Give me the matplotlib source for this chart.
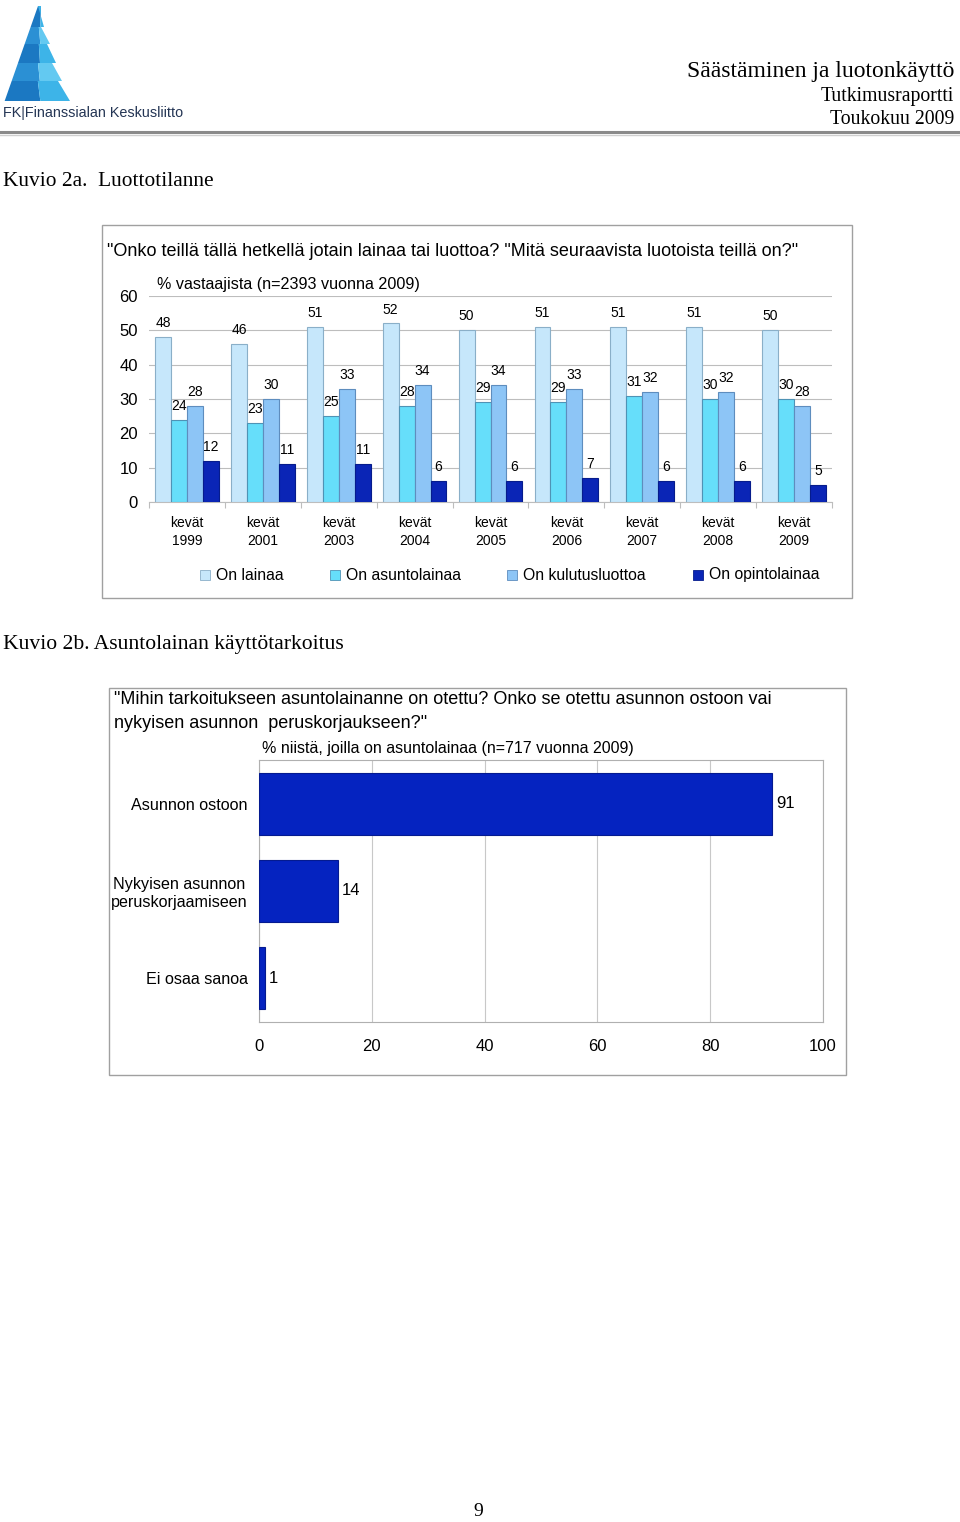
import matplotlib.pyplot as plt
from matplotlib.patches import Rectangle, Polygon
import numpy as np

# --- data ---
years = ["1999", "2001", "2003", "2004", "2005", "2006", "2007", "2008", "2009"]
series_names = ["On lainaa", "On asuntolainaa", "On kulutusluottoa", "On opintolainaa"]
on_lainaa = [48, 46, 51, 52, 50, 51, 51, 51, 50]
on_asuntolainaa = [24, 23, 25, 28, 29, 29, 31, 30, 30]
on_kulutusluottoa = [28, 30, 33, 34, 34, 33, 32, 32, 28]
on_opintolainaa = [12, 11, 11, 6, 6, 7, 6, 6, 5]

purpose_labels = ["Asunnon ostoon", "Nykyisen asunnon\nperuskorjaamiseen", "Ei osaa sanoa"]
purpose_values = [91, 14, 1]

series_colors = ["#C6E7FB", "#66DEFA", "#8DC5F6", "#0A25B6"]
edge_colors = ["#8AAFC8", "#4F93B5", "#5E8DBE", "#061C8C"]

W, H = 960, 1522
fig = plt.figure(figsize=(W / 100, H / 100), dpi=100)

sans = "Liberation Sans"
serif = "Liberation Serif"


def px_axes(x0, y0, x1, y1):
    # pixel box (top-left origin) -> figure fraction
    return fig.add_axes([x0 / W, 1 - y1 / H, (x1 - x0) / W, (y1 - y0) / H])


# background axes in pixel coordinates for page decorations
bg = fig.add_axes([0, 0, 1, 1])
bg.set_xlim(0, W)
bg.set_ylim(H, 0)
bg.axis("off")

# logo: stepped triangle
def left_edge(yy):
    return 38 - 33 * (yy - 6) / 94

tiers = [(6, 27, 38, 44), (27, 44, 41, 50), (44, 63, 47, 56), (63, 81, 52, 62), (81, 101, 58, 70)]
for i, (ya, yb, ra, rb) in enumerate(tiers):
    la, lb = left_edge(ya), left_edge(yb)
    mid_a = (la + ra) / 2 + 3
    mid_b = (lb + rb) / 2 + 3
    dark = "#1B78C2" if i % 2 == 0 else "#2B90D4"
    light = "#3DB4E8" if i % 2 == 0 else "#63C9F1"
    bg.add_patch(Polygon([(la, ya), (mid_a, ya), (mid_b, yb), (lb, yb)], closed=True,
                         facecolor=dark, edgecolor="none"))
    bg.add_patch(Polygon([(mid_a, ya), (ra, ya), (rb, yb), (mid_b, yb)], closed=True,
                         facecolor=light, edgecolor="none"))
bg.text(3, 113, "FK|Finanssialan Keskusliitto", fontsize=10.4, family=sans,
        color="#243554", va="center", ha="left")

# header
bg.text(954, 72, "Säästäminen ja luotonkäyttö", fontsize=17, family=serif, ha="right", va="center")
bg.text(954, 97, "Tutkimusraportti", fontsize=14.2, family=serif, ha="right", va="center")
bg.text(954, 119, "Toukokuu 2009", fontsize=14.2, family=serif, ha="right", va="center")
bg.plot([0, 960], [132, 132], color="#8A8A8A", lw=2.2)
bg.plot([0, 960], [134.5, 134.5], color="#CFCFCF", lw=1)

bg.text(3, 182, "Kuvio 2a.  Luottotilanne", fontsize=15.4, family=serif, va="center")
bg.text(3, 645, "Kuvio 2b. Asuntolainan käyttötarkoitus", fontsize=15.6, family=serif, va="center")
bg.text(478, 1511, "9", fontsize=14, family=serif, ha="center", va="center")

# chart frames
bg.add_patch(Rectangle((102, 225), 750, 373, facecolor="none", edgecolor="#A0A0A0", lw=1))
bg.add_patch(Rectangle((109, 688), 737, 387, facecolor="none", edgecolor="#A0A0A0", lw=1))

bg.text(107, 251, '"Onko teillä tällä hetkellä jotain lainaa tai luottoa? "Mitä seuraavista luotoista teillä on?"',
        fontsize=13, family=sans, va="center")
bg.text(157, 284, "% vastaajista (n=2393 vuonna 2009)", fontsize=11.6, family=sans, va="center")

# --- chart 2a ---
ax = px_axes(149, 296, 832, 502)
x = np.arange(len(years))
bw = 0.21
all_series = [on_lainaa, on_asuntolainaa, on_kulutusluottoa, on_opintolainaa]
for i, vals in enumerate(all_series):
    bars = ax.bar(x + (i - 1.5) * bw, vals, bw, color=series_colors[i], edgecolor=edge_colors[i],
                  linewidth=0.8, label=series_names[i], zorder=3)
    ax.bar_label(bars, padding=5, fontsize=10, family=sans)
ax.set_xlim(-0.5, len(years) - 0.5)
ax.set_ylim(0, 60)
ax.set_yticks(range(0, 61, 10))
ax.tick_params(axis="y", length=0, labelsize=12, pad=8)
ax.yaxis.grid(True, color="#BDBDBD", lw=0.8, zorder=0)
ax.set_xticks(np.arange(-0.5, len(years)))
ax.set_xticklabels([])
ax.tick_params(axis="x", length=4, color="#BDBDBD", direction="out")
for s in ["top", "right", "left"]:
    ax.spines[s].set_visible(False)
ax.spines["bottom"].set_color("#BDBDBD")
for lab in ax.get_yticklabels():
    lab.set_family(sans)
for i, y in enumerate(years):
    ax.text(i, -6.0, "kevät", ha="center", va="center", fontsize=10, family=sans)
    ax.text(i, -11.3, y, ha="center", va="center", fontsize=10, family=sans)

# legend
legend_marker_x = [205, 335, 512, 698]
for i, name in enumerate(series_names):
    mx = legend_marker_x[i]
    bg.add_patch(Rectangle((mx - 5, 570), 10, 10, facecolor=series_colors[i],
                           edgecolor=edge_colors[i], lw=0.6))
    bg.text(mx + 11, 575, name, fontsize=11.3, family=sans, va="center", ha="left")

# --- chart 2b ---
bg.text(114, 700, '"Mihin tarkoitukseen asuntolainanne on otettu? Onko se otettu asunnon ostoon vai',
        fontsize=13, family=sans, va="center")
bg.text(114, 724, 'nykyisen asunnon  peruskorjaukseen?"', fontsize=13, family=sans, va="center")
bg.text(448, 748, "% niistä, joilla on asuntolainaa (n=717 vuonna 2009)", fontsize=11.5,
        family=sans, ha="center", va="center")

ax2 = px_axes(259, 760, 823, 1022)
y = np.arange(len(purpose_labels))
bars2 = ax2.barh(y, purpose_values, 0.71, color="#0523C0", edgecolor="#041A90", lw=0.8, zorder=3)
ax2.bar_label(bars2, padding=3, fontsize=12, family=sans)
ax2.set_ylim(len(purpose_labels) - 0.5, -0.5)
ax2.set_xlim(0, 100)
ax2.set_xticks(range(0, 101, 20))
ax2.xaxis.grid(True, color="#C8C8C8", lw=0.8, zorder=0)
ax2.tick_params(axis="x", length=0, labelsize=12, pad=12)
ax2.set_yticks(y)
ax2.set_yticklabels(purpose_labels, fontsize=11.6, family=sans, multialignment="center")
ax2.tick_params(axis="y", length=0, pad=8)
for lab in ax2.get_xticklabels():
    lab.set_family(sans)
for s in ax2.spines.values():
    s.set_color("#B0B0B0")

fig.savefig("out.png", dpi=100)
